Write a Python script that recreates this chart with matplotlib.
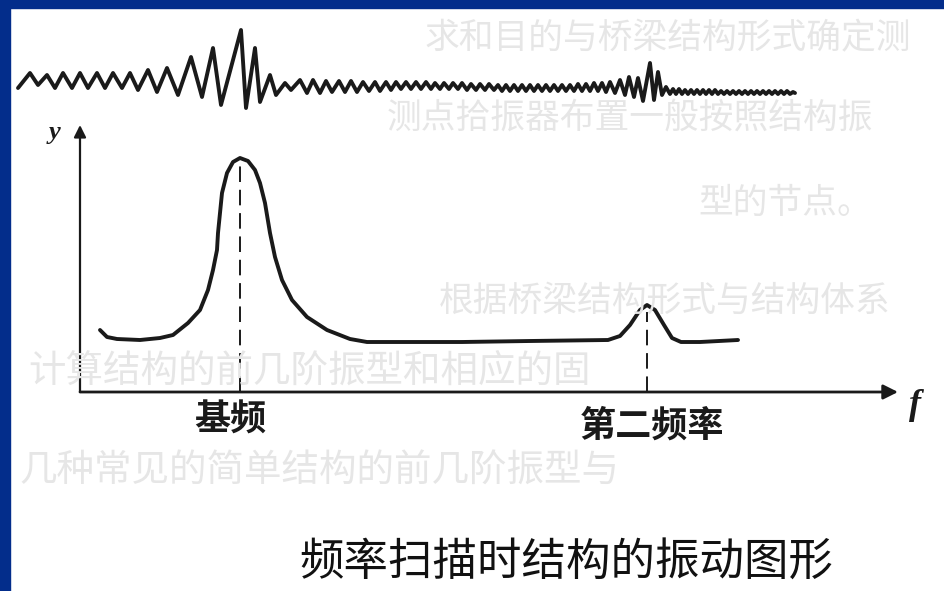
import numpy as np
import matplotlib
matplotlib.use('Agg')
import matplotlib.pyplot as plt
from matplotlib.patches import Rectangle

plt.rcParams['font.family'] = ['Noto Sans CJK SC', 'DejaVu Sans']

# 扫频时程 (上方波形): 转折点 (扫频位置, 位移)
wave_t = [-62, -50, -42, -33, -25, -17, -8, 0, 8, 17, 25, 33, 42, 50, 58, 68, 77, 87,
          98, 111, 122, 133, 141, 161, 166, 175, 180, 190, 196, 205, 211, 220, 227, 233,
          240, 246, 252, 259, 265, 271, 277, 283, 289, 295, 300, 306, 311, 316, 321, 326,
          331, 336, 341, 346, 351, 355, 360, 364, 369, 373, 378, 382, 387, 391, 396, 400,
          405, 409, 414, 418, 422, 426, 430, 434, 438, 442, 446, 450, 454, 458, 462, 466,
          470, 474, 478, 482, 486, 490, 494, 498, 502, 506, 510, 514, 518, 522, 526, 530,
          535, 540, 545, 549, 554, 558, 563, 570, 574, 578, 582, 586, 590, 593, 596, 599,
          602, 605, 608, 611, 614, 617, 620, 623, 626, 629, 632, 635, 638, 641, 644, 647,
          650, 653, 656, 659, 662, 665, 668, 671, 674, 677, 680, 683, 686, 689, 692, 695,
          698, 701, 704, 707, 710, 713, 715]
wave_d = [0, 15, 3, 13, 0, 15, 0, 15, 0, 15, 0, 15, 0, 15, -2, 18, -4, 20,
          -7, 31, -9, 40, -17, 58, -20, 40, -14, 13, -7, 5, -2, 8, -5, 8,
          -5, 7, -4, 7, -4, 7, -4, 6, -3, 6, -3, 6, -2, 6, -1, 6,
          -1, 6, -1, 6, -1, 5, -1, 5, -1, 5, -1, 5, -2, 4, -2, 4,
          -2, 4, -2, 3, -3, 3, -3, 3, -3, 3, -3, 3, -3, 3, -3, 3,
          -3, 3, -3, 3, -3, 3, -3, 4, -3, 4, -3, 5, -3, 5, -4, 6,
          -5, 8, -7, 11, -9, 10, -13, 25, -12, 16, -7, 1, -6, -1, -6, -1,
          -6, -2, -6, -2, -6, -2, -6, -2, -6, -2, -6, -2, -6, -3, -6, -3,
          -6, -3, -6, -3, -6, -3, -6, -3, -6, -3, -6, -3, -6, -3, -6, -3,
          -6, -3, -6, -3, -6, -4, -5]

# 幅频曲线 (下方)
freq = [20, 27, 37, 60, 80, 93, 108, 120, 128, 133, 137, 138, 142, 147, 153, 160,
        168, 175, 180, 185, 190, 195, 202, 212, 227, 247, 270, 287, 320, 382, 450,
        528, 540, 550, 560, 567, 575, 584, 592, 601, 620, 658]
amp = [62, 55, 53, 52, 54, 57, 69, 82, 102, 122, 142, 159, 199, 219, 230, 234,
       231, 222, 209, 189, 159, 135, 112, 92, 75, 62, 53, 50, 50, 50, 51,
       52, 56, 67, 82, 87, 82, 67, 54, 50, 50, 52]

f_base, a_base = 160, 228      # 基频
f_second, a_second = 567, 80   # 第二频率
peak_labels = ['基频', '第二频率']
caption = '频率扫描时结构的振动图形'

# 扫描页透印的正文 (很淡)
ghost_lines = ['求和目的与桥梁结构形式确定测',
               '测点拾振器布置一般按照结构振',
               '型的节点。',
               '根据桥梁结构形式与结构体系',
               '计算结构的前几阶振型和相应的固',
               '几种常见的简单结构的前几阶振型与']
ghost_pos = [(0.45, 0.935), (0.41, 0.80), (0.74, 0.655), (0.465, 0.49),
             (0.03, 0.37), (0.02, 0.205)]
ghost_size = [25, 25, 25, 25, 27, 27]

W, H = 944, 591
fig = plt.figure(figsize=(W / 100, H / 100), dpi=100)
fig.patch.set_facecolor('white')

for s, (gx, gy), fs in zip(ghost_lines, ghost_pos, ghost_size):
    fig.text(gx, gy, s, fontsize=fs, color='#e6e6e6', ha='left', va='center',
             zorder=0)

ink = '#1a1a1a'

# 上方波形
ax_w = fig.add_axes([80 / W, 471 / H, 820 / W, 100 / H])
ax_w.set_xlim(0, 820)
ax_w.set_ylim(-32, 68)
ax_w.axis('off')
ax_w.patch.set_alpha(0)
ax_w.plot(wave_t, wave_d, color=ink, lw=2.8, solid_joinstyle='round',
          solid_capstyle='round', clip_on=False)

# 下方幅频图
ax = fig.add_axes([80 / W, 199 / H, 820 / W, 272 / H])
ax.set_xlim(0, 820)
ax.set_ylim(0, 272)
ax.axis('off')
ax.patch.set_alpha(0)

ax.annotate('', xy=(818, 0), xytext=(0, 0),
            arrowprops=dict(arrowstyle='-|>', color=ink, lw=2.0,
                            mutation_scale=22, shrinkA=0, shrinkB=0))
ax.annotate('', xy=(0, 267), xytext=(0, 0),
            arrowprops=dict(arrowstyle='-|>', color=ink, lw=1.6,
                            mutation_scale=18, shrinkA=0, shrinkB=0))

ax.plot(freq, amp, color=ink, lw=2.8, solid_capstyle='round',
        solid_joinstyle='round', clip_on=False)

for fx, ay in [(f_base, a_base), (f_second, a_second)]:
    ax.plot([fx, fx], [0, ay], color=ink, lw=1.4, linestyle=(0, (8, 4)))

ax.text(f_base - 10, -28, peak_labels[0], fontsize=26, fontweight='bold',
        ha='center', va='center', color=ink)
ax.text(f_second + 5, -34, peak_labels[1], fontsize=26, fontweight='bold',
        ha='center', va='center', color=ink)

ax.text(-25, 260, 'y', fontsize=19, fontstyle='italic', fontweight='bold',
        family='Liberation Serif', ha='center', va='center', color=ink)
ax.text(835, -13, 'f', fontsize=26, fontstyle='italic', fontweight='bold',
        family='Liberation Serif', ha='center', va='center', color=ink)

fig.text(566 / W, 1 - 562 / H, caption, fontsize=32, ha='center', va='center',
         color='#111111')

# 幻灯片蓝色边框
blue = '#032d8b'
fig.patches.append(Rectangle((0, 0), 10 / W, 1, transform=fig.transFigure,
                             color=blue, zorder=10))
fig.patches.append(Rectangle((0, 1 - 8 / H), 1, 8 / H, transform=fig.transFigure,
                             color=blue, zorder=10))

fig.savefig('out.png', dpi=100, facecolor='white')
